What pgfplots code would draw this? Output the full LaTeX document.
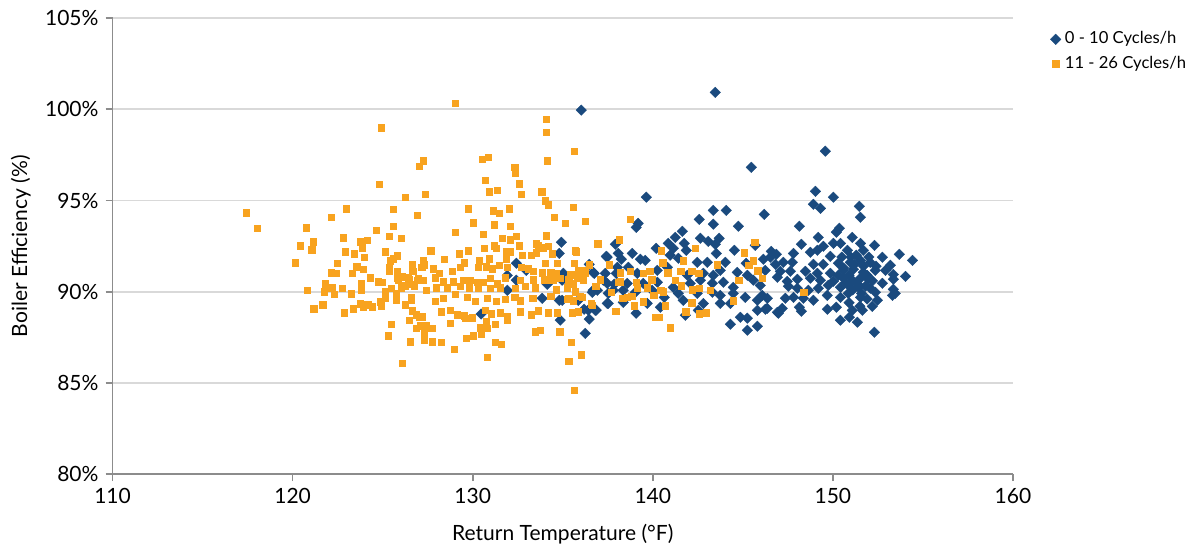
\documentclass[border=0pt]{standalone}
\usepackage{pgfplots}
\pgfplotsset{compat=1.18}
\usepackage{fontspec}
\setmainfont{Lato}

\definecolor{cycblue}{HTML}{1A4A7E}
\definecolor{cycorange}{HTML}{F8A31F}
\definecolor{axisgrey}{HTML}{8C8C8C}
\definecolor{gridgrey}{HTML}{D9D9D9}

\begin{document}
\begin{tikzpicture}[font=\fontsize{10.5}{12.5}\selectfont]
\useasboundingbox (-56.25pt,-36pt) rectangle (539.5pt,237pt);
\begin{axis}[
  at={(0,0)}, anchor=south west,
  scale only axis,
  width=450pt, height=228pt,
  xmin=110, xmax=160, ymin=80, ymax=105,
  xtick={110,120,...,160},
  ytick={80,85,...,105},
  axis x line=bottom, axis y line=left,
  axis line style={-, draw=axisgrey, line width=0.8pt},
  tick align=outside,
  major tick length=3.5pt,
  tick style={draw=axisgrey, line width=0.8pt},
  xtick pos=bottom, ytick pos=left,
  ymajorgrids,
  major grid style={draw=gridgrey, line width=0.8pt},
  /pgf/number format/assume math mode=true,
  yticklabel={\pgfmathprintnumber{\tick}\%},
  xlabel={Return Temperature (°F)},
  ylabel={Boiler Efficiency (\%)},
  x label style={at={(axis description cs:0.5,-0.132)}, anchor=center},
  y label style={at={(axis description cs:-0.102,0.5)}, anchor=center},
  legend style={at={(1.039,0.984)}, anchor=north west, draw=none, fill=none,
    inner sep=1pt, row sep=0.5pt, font=\fontsize{8.3}{10}\selectfont,
    /tikz/every even column/.append style={column sep=0pt}},
  legend cell align=left,
]
% 0 - 10 cycles/h
\addplot[only marks, mark=square*, mark size=1.85pt,
  mark options={rotate=45, fill=cycblue, draw=cycblue, line width=0.2pt}]
coordinates {
(136.03,99.95) (134.92,92.71) (137.92,92.60) (134.81,92.10) (137.42,91.94) (138.08,92.10)
(132.42,91.56) (136.47,91.50) (132.97,91.17) (135.03,91.01) (136.75,91.01) (137.97,91.01)
(131.92,90.90) (132.42,90.63) (137.47,90.46) (131.92,90.08) (134.14,90.41) (136.69,90.08)
(136.92,90.08) (137.81,90.08) (133.86,89.64) (134.81,89.53) (135.86,89.53) (137.53,89.36)
(130.47,88.78) (136.19,89.04) (136.42,88.99) (136.86,88.99) (136.47,88.50) (134.86,88.44)
(136.25,87.72)
(143.47,100.92) (145.47,96.82) (139.64,95.18) (143.36,94.46) (144.08,94.46) (142.58,93.97)
(146.19,94.24) (143.36,93.70) (144.75,93.59) (139.19,93.75) (139.08,93.53) (141.64,93.31)
(141.25,92.98) (140.86,92.65) (141.75,92.65) (142.64,92.93) (143.08,92.76) (143.69,92.93)
(143.47,92.60) (145.69,92.54) (140.19,92.38) (141.14,92.38) (141.86,92.27) (143.53,92.10)
(144.53,92.27) (146.58,92.21) (137.47,91.89) (138.25,91.78) (138.86,92.10) (139.31,91.78)
(139.58,91.72) (140.97,92.00) (141.42,91.83) (142.47,91.61) (143.03,91.61) (144.03,91.61)
(145.19,91.56) (146.14,91.78) (146.53,91.89) (136.69,91.06) (137.36,91.01) (138.03,91.34)
(138.64,91.34) (139.14,91.01) (140.25,91.17) (140.81,91.34) (141.92,90.90) (142.81,91.01)
(143.36,90.90) (143.75,91.17) (144.69,91.06) (145.25,90.90) (146.25,91.17) (134.97,90.63)
(137.25,90.63) (137.86,90.41) (138.58,90.46) (139.47,90.46) (140.25,90.52) (141.14,90.24)
(142.08,90.46) (142.64,90.63) (143.31,90.46) (143.92,90.52) (144.47,90.24) (145.58,90.63)
(145.97,90.35) (136.64,89.97) (137.53,89.91) (138.36,90.08) (139.03,89.97) (139.97,90.08)
(141.42,89.91) (142.47,89.91) (143.31,89.97) (143.75,89.80) (144.47,89.91) (145.14,89.69)
(146.08,89.80) (134.97,89.53) (137.47,89.36) (138.36,89.42) (139.69,89.36) (140.64,89.69)
(141.69,89.53) (142.81,89.36) (143.75,89.36) (144.31,89.36) (145.81,89.53) (146.36,89.09)
(146.92,88.87) (136.81,88.98) (139.08,88.82) (140.42,89.15) (141.81,88.71) (142.53,88.98)
(144.86,88.60) (145.25,88.55) (145.81,88.98) (144.31,88.22) (145.25,87.89) (145.81,88.11)
(149.58,97.70) (149.03,95.50) (150.03,95.18) (148.92,94.79) (149.31,94.57) (151.47,94.68)
(151.53,94.08) (148.14,93.59) (150.36,93.48) (150.19,93.26) (149.19,92.98) (151.08,92.98)
(148.25,92.60) (149.47,92.49) (150.03,92.65) (150.42,92.65) (151.53,92.65) (152.31,92.54)
(146.86,92.05) (147.81,92.10) (148.75,92.16) (149.14,92.27) (149.86,91.94) (150.81,92.27)
(151.69,92.27) (152.75,91.89) (153.69,92.05) (154.42,91.72) (146.81,91.50) (147.25,91.61)
(147.75,91.61) (148.92,91.50) (149.47,91.50) (150.31,91.56) (150.97,91.61) (151.53,91.72)
(152.08,91.61) (153.19,91.45) (147.08,91.12) (147.64,91.12) (148.47,91.12) (149.14,91.01)
(149.86,91.01) (150.58,91.17) (151.14,91.23) (151.69,91.06) (152.36,91.17) (152.92,91.17)
(153.36,90.95) (154.03,90.84) (146.92,90.79) (147.47,90.57) (148.03,90.68) (148.75,90.74)
(149.31,90.63) (150.03,90.57) (150.58,90.74) (151.08,90.63) (151.53,90.74) (151.97,90.68)
(152.75,90.46) (153.36,90.68) (147.53,90.30) (148.03,90.19) (148.64,90.08) (149.19,90.19)
(149.75,90.35) (150.42,90.24) (150.86,90.35) (151.42,90.24) (152.08,90.19) (153.36,90.13)
(153.47,89.91) (153.31,89.80) (146.36,89.64) (147.36,89.64) (147.81,89.69) (148.36,89.64)
(148.92,89.53) (149.69,89.80) (150.42,89.69) (150.86,89.91) (151.53,89.69) (152.36,89.97)
(152.47,89.53) (148.14,89.15) (147.19,89.09) (146.97,88.82) (146.25,89.04) (149.69,89.04)
(150.19,89.15) (151.08,88.98) (151.64,88.98) (152.19,89.20) (148.25,88.93) (150.42,88.44)
(150.92,88.60) (151.36,88.33) (152.31,87.78)
(150.60,91.30) (150.90,90.90) (151.20,91.50) (151.40,90.40) (151.70,91.40) (151.90,90.90)
(151.10,90.10) (150.70,90.50) (151.60,89.90) (151.80,90.30) (152.00,91.90) (150.50,91.90)
(151.30,92.00) (152.20,90.60) (150.90,89.40) (151.50,89.20) (151.90,89.60) (150.30,90.90)
(152.40,91.40) (151.00,91.90)
};
\addlegendentry{0 - 10 Cycles/h}
% 11 - 26 cycles/h
\addplot[only marks, mark=square*, mark size=1.7pt,
  mark options={fill=cycorange, draw=cycorange, line width=0.2pt}]
coordinates {
(124.92,99.01) (127.25,97.20) (127.03,96.88) (124.81,95.89) (126.25,95.18) (127.36,95.34)
(117.42,94.35) (118.03,93.48) (122.97,94.57) (122.14,94.08) (120.75,93.53) (125.58,94.52)
(126.92,94.19) (125.58,93.59) (124.64,93.37) (122.81,92.98) (120.42,92.54) (121.14,92.76)
(121.08,92.32) (123.75,92.76) (124.14,92.82) (123.86,92.43) (125.36,93.04) (126.03,92.93)
(122.92,92.21) (123.42,92.10) (123.97,91.89) (125.14,92.21) (125.81,91.99) (125.42,91.72)
(125.58,91.83) (120.14,91.61) (122.47,91.56) (123.58,91.39) (123.92,91.23) (122.14,91.06)
(122.42,91.01) (123.31,91.01) (125.36,91.34) (125.36,91.12) (125.81,91.12) (126.64,91.50)
(126.69,91.12) (127.25,91.72) (127.31,91.50) (127.19,91.34) (127.64,92.27) (124.31,90.79)
(125.81,90.79) (125.86,90.63) (126.08,90.84) (126.42,90.79) (126.47,90.68) (126.97,90.74)
(126.92,90.63) (127.25,90.63) (124.75,90.57) (124.97,90.52) (123.81,90.46) (121.81,90.46)
(122.19,90.24) (122.75,90.19) (125.47,90.19) (126.03,90.24) (126.25,90.35) (126.64,90.41)
(126.75,90.30) (123.81,90.08) (125.14,90.02) (120.81,90.08) (121.75,90.02) (122.31,89.86)
(123.25,89.91) (125.14,89.69) (125.75,89.91) (125.75,89.58) (126.58,89.69) (126.58,89.58)
(121.19,89.09) (121.69,89.31) (122.86,88.87) (123.36,89.09) (123.75,89.36) (123.92,89.20)
(124.19,89.31) (124.42,89.20) (124.86,89.47) (124.92,89.25) (126.25,89.31) (126.64,88.98)
(126.86,88.75) (127.03,88.61) (127.14,88.66) (126.47,88.44) (125.47,88.22) (127.08,88.16)
(126.86,88.00) (127.31,87.83) (127.64,88.00) (125.31,87.61) (126.53,87.28) (127.31,87.34)
(126.08,86.08)
(129.03,100.33) (134.08,99.45) (134.08,98.74) (135.64,97.70) (130.53,97.26) (130.86,97.37)
(134.14,97.20) (132.31,96.82) (132.36,96.49) (130.69,96.11) (132.58,95.94) (130.92,95.50)
(131.36,95.56) (132.69,95.34) (133.81,95.50) (134.03,95.01) (134.19,94.79) (129.75,94.57)
(131.14,94.46) (132.03,94.57) (131.47,94.30) (135.58,94.63) (134.53,94.08) (130.03,93.80)
(131.19,93.69) (132.08,93.59) (135.14,93.75) (136.25,93.86) (129.03,93.26) (130.58,93.15)
(131.64,92.93) (132.08,92.87) (132.42,93.04) (134.08,93.09) (136.92,92.65) (127.69,92.27)
(129.25,92.10) (129.75,92.27) (130.64,92.38) (131.19,92.54) (131.31,92.38) (131.86,92.21)
(132.08,92.21) (132.58,92.54) (133.53,92.65) (133.64,92.54) (133.92,92.43) (134.19,92.49)
(135.69,92.27) (127.25,91.61) (128.42,91.78) (129.53,91.61) (130.36,91.72) (130.92,91.83)
(131.86,91.83) (132.75,92.00) (133.25,92.00) (133.53,92.16) (134.42,92.10) (134.03,91.56)
(134.69,91.56) (135.64,91.56) (137.58,91.50) (127.81,91.28) (128.14,91.01) (128.86,91.12)
(129.31,91.34) (130.31,91.34) (130.75,91.39) (131.08,91.28) (131.47,91.45) (131.92,91.34)
(132.69,91.34) (133.08,91.28) (133.36,91.12) (133.86,91.06) (134.31,91.06) (134.64,91.01)
(135.42,90.95) (135.86,91.17) (136.19,91.17) (127.92,90.79) (128.36,90.57) (128.92,90.57)
(129.47,90.63) (129.86,90.63) (130.25,90.52) (130.58,90.52) (130.97,90.74) (131.36,90.46)
(131.81,90.79) (132.64,90.63) (133.36,90.68) (133.97,90.68) (134.19,90.63) (134.47,90.63)
(134.86,90.74) (135.31,90.68) (135.81,90.79) (136.14,90.63) (137.08,90.68) (138.08,90.52)
(127.42,90.08) (127.97,90.24) (128.58,90.24) (129.31,90.30) (129.81,90.24) (130.31,90.19)
(130.97,90.19) (131.53,90.24) (132.36,90.19) (132.92,90.30) (133.47,90.24) (134.64,90.13)
(135.25,90.24) (135.69,90.02) (137.69,89.97) (127.92,89.48) (128.36,89.64) (129.03,89.86)
(129.69,89.70) (130.14,89.48) (130.81,89.64) (131.31,89.48) (131.81,89.59) (132.31,89.70)
(132.64,89.53) (133.31,89.64) (134.31,89.75) (135.25,89.59) (135.58,89.53) (136.08,89.70)
(136.64,89.26) (137.92,88.93) (127.19,88.61) (128.25,88.89) (128.75,88.99) (129.14,88.72)
(129.53,88.67) (129.97,88.56) (130.69,88.99) (131.03,88.78) (131.53,88.83) (131.92,88.61)
(132.64,88.89) (133.25,88.72) (133.64,88.94) (134.19,88.83) (134.69,88.83) (135.53,88.83)
(127.42,88.17) (127.75,88.00) (128.75,88.27) (129.58,88.55) (130.42,88.05) (130.75,88.38)
(131.25,88.22) (131.92,88.44) (127.31,87.39) (127.75,87.28) (128.25,87.23) (129.64,87.45)
(130.03,87.61) (130.47,87.67) (130.81,88.00) (131.25,87.23) (131.58,87.12) (133.47,87.83)
(133.75,87.89) (134.81,87.83) (128.97,86.85) (130.81,86.41) (135.47,87.23) (136.03,86.57)
(135.31,86.19) (135.64,84.60)
(135.75,92.21) (138.14,92.87) (138.75,93.97) (140.47,92.27) (142.36,92.38) (145.64,92.71)
(145.08,92.16) (136.47,91.50) (140.53,91.61) (141.69,91.72) (143.58,91.50) (145.31,91.45)
(145.58,91.72) (136.25,91.06) (138.19,91.06) (138.75,91.12) (139.47,91.01) (139.81,91.12)
(140.81,91.06) (141.53,91.12) (142.14,91.12) (142.53,91.01) (145.81,91.17) (146.08,90.74)
(138.19,90.57) (139.08,90.52) (139.92,90.68) (141.25,90.63) (144.75,90.63) (135.58,90.46)
(136.81,90.30) (139.14,90.24) (139.69,90.24) (140.42,90.08) (141.58,90.35) (142.19,90.13)
(142.58,90.19) (143.19,90.08) (138.81,89.75) (140.03,89.81) (140.58,90.02) (135.31,89.64)
(135.97,89.75) (138.31,89.64) (138.58,89.70) (144.47,89.53) (136.58,89.36) (138.97,89.25)
(139.47,89.47) (140.69,89.25) (142.14,89.42) (141.81,88.91) (142.58,88.80) (142.97,88.86)
(135.86,88.91) (140.14,88.60) (140.36,88.60) (140.97,88.05) (148.36,89.97)
};
\addlegendentry{11 - 26 Cycles/h}
\end{axis}
\end{tikzpicture}
\end{document}
